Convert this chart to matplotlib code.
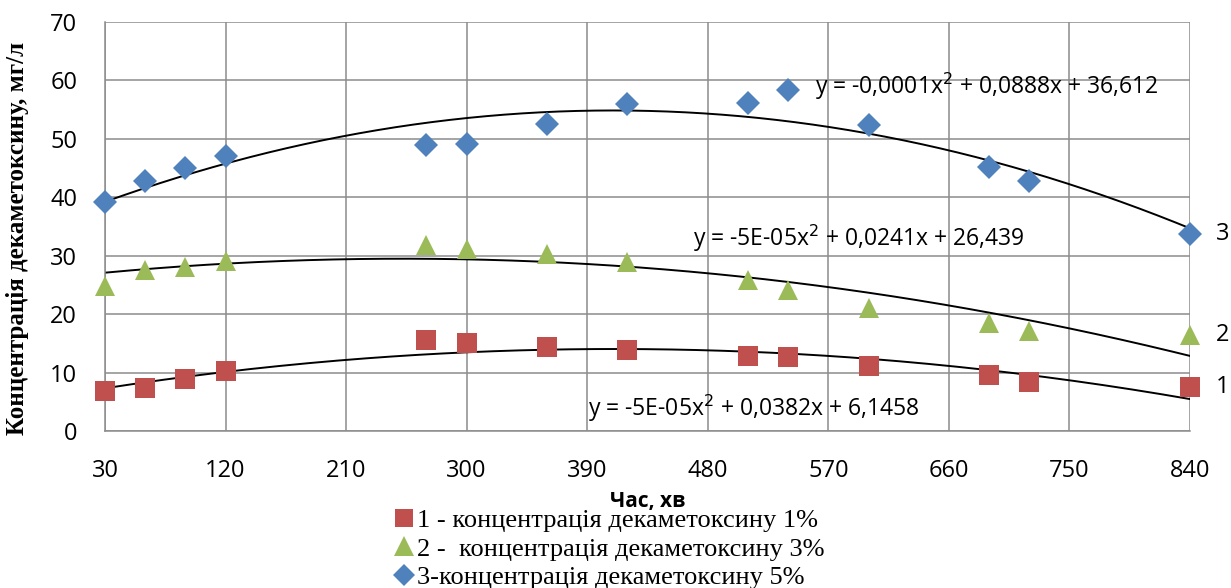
import numpy as np
import matplotlib
matplotlib.use("Agg")
import matplotlib.pyplot as plt
from matplotlib.lines import Line2D
from matplotlib.transforms import IdentityTransform

# time, min
time_min = [30, 60, 90, 120, 270, 300, 360, 420, 510, 540, 600, 690, 720, 840]

# concentration, mg/l
conc_1 = [6.8, 7.3, 8.9, 10.3, 15.6, 15.1, 14.3, 13.8, 12.8, 12.6, 11.1, 9.6, 8.4, 7.6]
conc_3 = [24.9, 27.5, 28.1, 29.1, 31.9, 31.2, 30.3, 28.9, 25.8, 24.2, 21.1, 18.4, 17.2, 16.5]
conc_5 = [39.2, 42.8, 45.0, 47.0, 48.9, 49.1, 52.5, 56.0, 56.2, 58.3, 52.4, 45.1, 42.8, 33.8]

eq_labels = ["y = -5E-05x$^2$ + 0,0382x + 6,1458",
             "y = -5E-05x$^2$ + 0,0241x + 26,439",
             "y = -0,0001x$^2$ + 0,0888x + 36,612"]
eq_pos = [(588, 408), (693, 238), (815, 86)]   # pixels from top-left
legend_labels = ["1 - концентрація декаметоксину 1%",
                 "2 -  концентрація декаметоксину 3%",
                 "3-концентрація декаметоксину 5%"]
xticks = [30, 120, 210, 300, 390, 480, 570, 660, 750, 840]

sans = ["Open Sans", "DejaVu Sans"]
serif = ["Liberation Serif", "DejaVu Serif"]
H = 588

fig = plt.figure(figsize=(12.31, 5.88), dpi=100)
ax = fig.add_axes([105/1231, 1 - 431/H, 1085/1231, 409/H])

series = [
    (conc_1, "s", "#C0504D", 14, "1"),
    (conc_3, "^", "#9BBB59", 15, "2"),
    (conc_5, "D", "#4F81BD", 12, "3"),
]

x = np.array(time_min, dtype=float)
xs = np.linspace(30, 840, 300)
for vals, m, c, ms, lab in series:
    ax.plot(x, vals, linestyle="none", marker=m, color=c, markersize=ms,
            markeredgewidth=0, zorder=3, clip_on=False)
    coef = np.polyfit(x, vals, 2)
    ax.plot(xs, np.polyval(coef, xs), color="black", lw=1.4, zorder=2)
    ax.annotate(lab, (x[-1], vals[-1]), xytext=(33, 0), textcoords="offset pixels",
                ha="center", va="center", fontsize=17, family=sans)

# trend equations
for lab, (px, py) in zip(eq_labels, eq_pos):
    fig.text(px, H - py, lab, transform=IdentityTransform(), fontsize=16.5,
             family=sans, va="center", zorder=4)

ax.set_xlim(30, 840)
ax.set_ylim(0, 70)
ax.set_xticks(xticks)
ax.set_yticks(range(0, 71, 10))
ax.grid(True, color="#8c8c8c", lw=1.1)
ax.set_axisbelow(True)
for s in ["top", "right"]:
    ax.spines[s].set_visible(False)
for s in ["left", "bottom"]:
    ax.spines[s].set_color("#8c8c8c")
    ax.spines[s].set_linewidth(1.1)
ax.tick_params(length=0, labelsize=17)
ax.tick_params(axis="x", pad=20)
ax.tick_params(axis="y", pad=20)
for lbl in ax.get_xticklabels() + ax.get_yticklabels():
    lbl.set_family(sans)

ax.set_ylabel("Концентрація декаметоксину, мг/л", family=serif, fontsize=18,
              fontweight="bold")
ax.yaxis.set_label_coords(-76/1085, 0.47)
fig.text(648/1231, 1 - 501/H, "Час, хв", family=sans, fontsize=15,
         fontweight="bold", ha="center", va="center")

handles = [Line2D([], [], linestyle="none", marker=m, color=c, markersize=ms * 0.95,
                  markeredgewidth=0) for _, m, c, ms, _ in series]
fig.legend(handles, legend_labels, loc="upper left",
           bbox_to_anchor=(396/1231, 1 - 509/H), frameon=False,
           prop={"family": serif, "size": 19}, handlelength=0.6,
           handletextpad=0.2, labelspacing=0.18, borderpad=0, borderaxespad=0)

fig.savefig("out.png", dpi=100)
